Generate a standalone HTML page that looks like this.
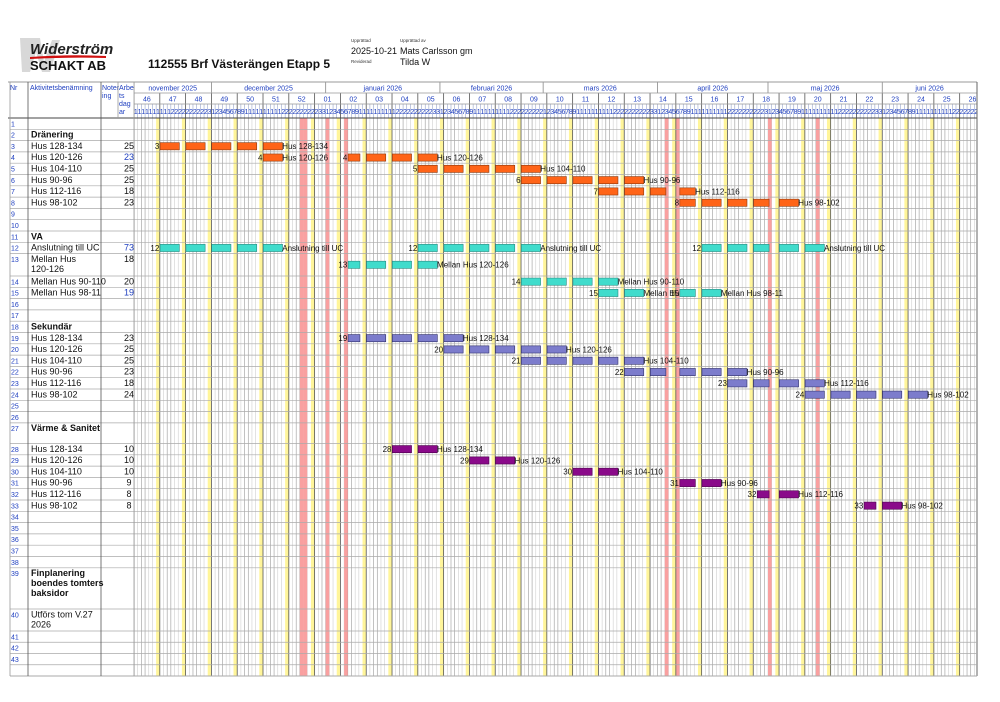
<!DOCTYPE html>
<html><head><meta charset="utf-8">
<style>
html,body{margin:0;padding:0;background:#fff;}
body{width:1000px;height:702px;overflow:hidden;position:relative;font-family:"Liberation Sans",sans-serif;}
svg{position:absolute;left:0;top:0;}
</style></head><body>
<svg id="s" width="1000" height="702" xmlns="http://www.w3.org/2000/svg" font-family="Liberation Sans, sans-serif">
<path d="M20 38 L40 38 L44 62 L52 40 L60 40 L50 72 L42 72 L36 52 L30 72 L22 72 Z" fill="#d8d8d8"/>
<text x="30" y="54" font-size="15" font-weight="bold" font-style="italic" fill="#222">Widerström</text>
<path d="M30 57 Q70 54 106 56 L106 58 Q70 57 30 59 Z" fill="#d01010"/>
<text x="30" y="70" font-size="13" font-weight="bold" fill="#111">SCHAKT AB</text>
<text x="148" y="68" font-size="12" font-weight="bold" fill="#111">112555 Brf Västerängen Etapp 5</text>
<text x="351" y="42" font-size="4.5" fill="#333">Upprättad</text>
<text x="351" y="54" font-size="9" fill="#111">2025-10-21</text>
<text x="351" y="63" font-size="4.5" fill="#333">Reviderad</text>
<text x="400" y="42" font-size="4.5" fill="#333">Upprättad av</text>
<text x="400" y="54" font-size="9" fill="#111">Mats Carlsson gm</text>
<text x="400" y="65" font-size="9" fill="#111">Tilda W</text>
<g font-size="7" fill="#2040c0">
<text x="10" y="90">Nr</text>
<text x="30" y="90">Aktivitetsbenämning</text>
<text x="102" y="90">Noter</text><text x="102" y="98">ing</text>
<text x="119" y="90">Arbe</text><text x="119" y="98">ts</text><text x="119" y="106">dag</text><text x="119" y="114">ar</text>
</g>
<g id="grid"></g>
<g id="left" font-size="9" fill="#111"></g>
<g id="bars"></g>
</svg>
<script>
(function(){
var NS="http://www.w3.org/2000/svg";
function el(p,t,a,txt){var e=document.createElementNS(NS,t);for(var k in a)e.setAttribute(k,a[k]);if(txt!=null)e.textContent=txt;p.appendChild(e);return e;}
var G=document.getElementById('grid'),L=document.getElementById('left'),B=document.getElementById('bars');
var X0=134,D=3.686,XE=977,NDAYS=229;
function dx(i){return X0+i*D;}
var RT=[];var i;
for(i=1;i<=13;i++)RT[i]=118+(i-1)*11.3;
for(i=14;i<=27;i++)RT[i]=276+(i-14)*11.3;
for(i=28;i<=39;i++)RT[i]=443.5+(i-28)*11.3;
RT[40]=609;RT[41]=631;RT[42]=642.25;RT[43]=653.5;RT[44]=664.75;RT[45]=676;
var hol=[45,46,52,57,144,147,172,185];
var defs=el(document.getElementById('s'),'defs',{});
var cp=el(defs,'clipPath',{id:'c'});el(cp,'rect',{x:X0,y:80,width:XE-X0,height:600});
var g=el(G,'g',{'clip-path':'url(#c)'});
var k,d,x;
for(d=0;d<=NDAYS;d++){x=dx(d);var wk=(d%7==0);
 el(g,'line',{x1:x,y1:104,x2:x,y2:118,stroke:'#8090c0','stroke-width':0.5});
 if(!wk&&d%7!=6)el(g,'line',{x1:x,y1:118,x2:x,y2:676,stroke:(d%7==2||d%7==3)?'#999':'#cfcfcf','stroke-width':0.6});}
for(k=0;k<34;k++){d=6+7*k;el(g,'rect',{x:dx(d),y:118,width:D,height:558,fill:'#fff59a'});}
for(i=0;i<hol.length;i++)el(g,'rect',{x:dx(hol[i]),y:118,width:D,height:558,fill:'#f9a0a0'});
for(k=0;k<=33;k++){x=dx(7*k);el(g,'line',{x1:x,y1:93,x2:x,y2:676,stroke:'#555','stroke-width':0.8});}
var months=[[0,'november 2025'],[21,'december 2025'],[52,'januari 2026'],[83,'februari 2026'],[111,'mars 2026'],[142,'april 2026'],[172,'maj 2026'],[203,'juni 2026'],[233,'']];
for(i=0;i<months.length-1;i++){var a=dx(months[i][0]),b=Math.min(dx(months[i+1][0]),XE);
 el(g,'line',{x1:a,y1:82,x2:a,y2:93,stroke:'#888','stroke-width':0.8});
 el(g,'text',{x:(a+b)/2,y:90.5,'font-size':7,fill:'#2040c0','text-anchor':'middle'},months[i][1]);}
var wn=[46,47,48,49,50,51,52,'01','02','03','04','05','06','07','08','09',10,11,12,13,14,15,16,17,18,19,20,21,22,23,24,25,26];
for(k=0;k<wn.length;k++)el(g,'text',{x:dx(7*k+3.5),y:101.5,'font-size':7,fill:'#2040c0','text-anchor':'middle'},String(wn[k]));
var mlen=[[10,30],[1,31],[1,31],[1,28],[1,31],[1,30],[1,31],[1,30]];var di=0;
for(var m=0;m<mlen.length;m++)for(var dd=mlen[m][0];dd<=mlen[m][1];dd++){if(di<NDAYS)el(g,'text',{x:dx(di)+D/2,y:114,'font-size':7,fill:'#2040c0','text-anchor':'middle'},String(dd)[0]);di++;}
el(G,'line',{x1:8,y1:82,x2:XE,y2:82,stroke:'#999','stroke-width':1});
el(G,'line',{x1:X0,y1:93,x2:XE,y2:93,stroke:'#999','stroke-width':0.8});
el(G,'line',{x1:X0,y1:104,x2:XE,y2:104,stroke:'#999','stroke-width':0.8});
el(G,'line',{x1:8,y1:118,x2:XE,y2:118,stroke:'#444','stroke-width':1});
el(G,'line',{x1:XE,y1:82,x2:XE,y2:676,stroke:'#666','stroke-width':1});
for(i=2;i<=45;i++)el(G,'line',{x1:10,y1:RT[i],x2:XE,y2:RT[i],stroke:'#aaa','stroke-width':(i==45?1:0.7)});
[[10,82],[28,82],[101,82],[118,82],[134,82]].forEach(function(v){el(G,'line',{x1:v[0],y1:v[1],x2:v[0],y2:(v[0]==118?118:676),stroke:(v[0]==101||v[0]==28?'#555':'#999'),'stroke-width':0.8});});
var rows={2:['Dränering','',1],3:['Hus 128-134','25'],4:['Hus 120-126','23b'],5:['Hus 104-110','25'],6:['Hus 90-96','25'],7:['Hus 112-116','18'],8:['Hus 98-102','23'],
11:['VA','',1],12:['Anslutning till UC','73b'],13:['Mellan Hus|120-126','18'],14:['Mellan Hus 90-110','20'],15:['Mellan Hus 98-11','19b'],
18:['Sekundär','',1],19:['Hus 128-134','23'],20:['Hus 120-126','25'],21:['Hus 104-110','25'],22:['Hus 90-96','23'],23:['Hus 112-116','18'],24:['Hus 98-102','24'],
27:['Värme & Sanitet','',1],28:['Hus 128-134','10'],29:['Hus 120-126','10'],30:['Hus 104-110','10'],31:['Hus 90-96','9'],32:['Hus 112-116','8'],33:['Hus 98-102','8'],
39:['Finplanering|boendes tomters|baksidor','',1],40:['Utförs tom V.27|2026','']};
for(i=1;i<=43;i++){var y=RT[i]+8.3;el(L,'text',{x:11,y:y,'font-size':7,fill:'#2040c0'},String(i));
 var r=rows[i];if(!r)continue;var lines=r[0].split('|');
 for(var j=0;j<lines.length;j++)el(L,'text',{x:31,y:y+j*10,'font-weight':r[2]?'bold':'normal'},lines[j]);
 if(r[1]){var blue=r[1].indexOf('b')>0;el(L,'text',{x:129,y:y,'text-anchor':'middle',fill:blue?'#2040c0':'#111'},r[1].replace('b',''));}}
function isWork(d){var w=d%7;return w<5&&hol.indexOf(d)<0;}
var C={o:['#ff6418','#8a3a10'],t:['#40dccc','#2a8a80'],p:['#7c7ccc','#30306a'],v:['#8a0a8a','#4a004a']};
function seg(row,start,n,col,label){var days=[],d=start;while(days.length<n){if(isWork(d))days.push(d);d++;}
 var cy=(RT[row]+RT[row+1])/2,c=C[col];var wk={};days.forEach(function(x){var w=Math.floor(x/7);if(!wk[w])wk[w]=[x,x];wk[w][1]=x;});
 for(var w in wk){el(B,'rect',{x:dx(wk[w][0])+0.3,y:cy-3.6,width:(wk[w][1]-wk[w][0]+1)*D+0.8,height:7.2,fill:c[0],stroke:c[1],'stroke-width':0.6});}
 var last=days[days.length-1];
 el(B,'text',{x:dx(days[0])-0.5,y:cy+2.8,'font-size':8,'text-anchor':'end',fill:'#111'},String(row));
 el(B,'text',{x:dx(last+1)+0.8,y:cy+2.8,'font-size':8,fill:'#111'},label);}
seg(3,7,25,'o','Hus 128-134');
seg(4,35,5,'o','Hus 120-126');seg(4,58,18,'o','Hus 120-126');
seg(5,77,25,'o','Hus 104-110');
seg(6,105,25,'o','Hus 90-96');
seg(7,126,18,'o','Hus 112-116');
seg(8,148,23,'o','Hus 98-102');
seg(12,7,25,'t','Anslutning till UC');seg(12,77,25,'t','Anslutning till UC');seg(12,154,23,'t','Anslutning till UC');
seg(13,58,18,'t','Mellan Hus 120-126');
seg(14,105,20,'t','Mellan Hus 90-110');
seg(15,126,10,'t','Mellan Hus');seg(15,148,9,'t','Mellan Hus 98-11');
seg(19,58,23,'p','Hus 128-134');
seg(20,84,25,'p','Hus 120-126');
seg(21,105,25,'p','Hus 104-110');
seg(22,133,23,'p','Hus 90-96');
seg(23,161,18,'p','Hus 112-116');
seg(24,182,24,'p','Hus 98-102');
seg(28,70,10,'v','Hus 128-134');
seg(29,91,10,'v','Hus 120-126');
seg(30,119,10,'v','Hus 104-110');
seg(31,148,9,'v','Hus 90-96');
seg(32,169,8,'v','Hus 112-116');
seg(33,198,8,'v','Hus 98-102');
})();
</script>
</body></html>
